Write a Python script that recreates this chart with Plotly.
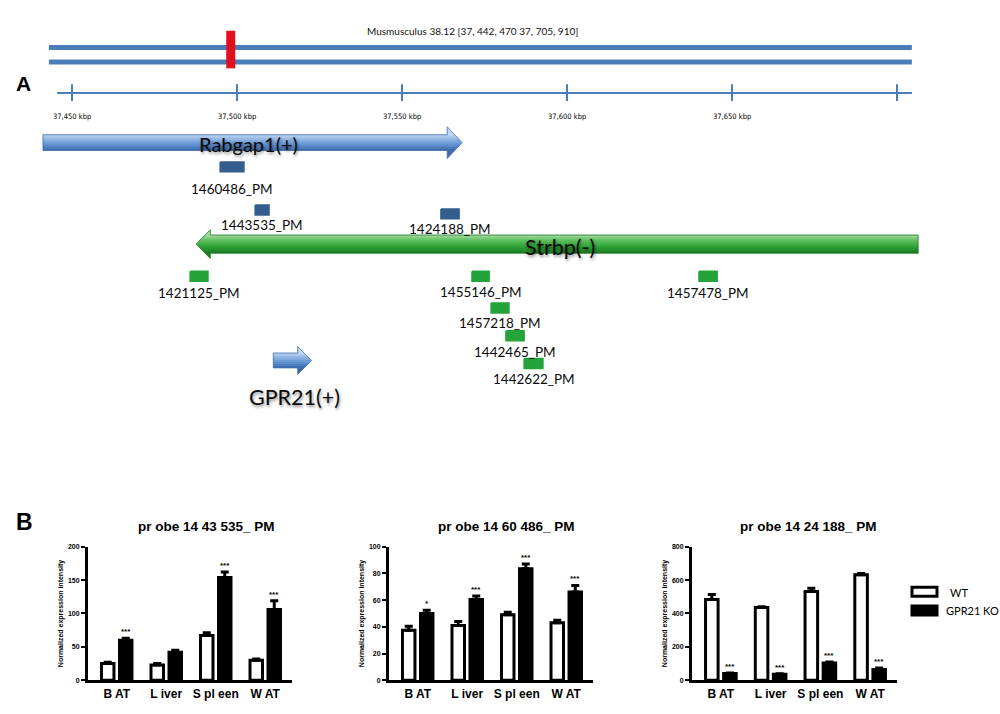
import plotly.graph_objects as go

# ================= DATA =================
# ---- Panel A: genomic locus ----
region_title = "Musmusculus 38.12 [37, 442, 470 37, 705, 910]"
chrom_view_kbp = [37443.0, 37704.5]
locus_mark_kbp = 37498.1
scale_line_kbp = [37445.5, 37704.5]
scale_ticks_kbp = [37450, 37500, 37550, 37600, 37650, 37700]
scale_tick_labels = ["37,450 kbp", "37,500 kbp", "37,550 kbp", "37,600 kbp", "37,650 kbp", ""]

gene_names = ["Rabgap1(+)", "Strbp(-)", "GPR21(+)"]
gene_start_kbp = [37441.2, 37487.6, 37511.0]
gene_end_kbp = [37568.2, 37706.4, 37522.6]
gene_strand = ["+", "-", "+"]

probe_names = ["1460486_PM", "1443535_PM", "1424188_PM", "1421125_PM", "1455146_PM",
               "1457478_PM", "1457218_PM", "1442465_PM", "1442622_PM"]
probe_start_kbp = [37494.9, 37505.5, 37561.8, 37485.8, 37571.2, 37640.0, 37577.0, 37581.5, 37587.0]
probe_end_kbp = [37502.1, 37509.7, 37567.3, 37491.2, 37576.4, 37645.5, 37582.4, 37587.0, 37592.7]
probe_gene = ["Rabgap1", "Rabgap1", "Rabgap1", "Strbp", "Strbp", "Strbp", "Strbp", "Strbp", "Strbp"]

# ---- Panel B: expression ----
tissues = ["B AT", "L iver", "S pl een", "W AT"]
probe_titles = ["pr obe 14 43 535_ PM", "pr obe 14 60 486_ PM", "pr obe 14 24 188_ PM"]
series_names = ["WT", "GPR21 KO"]

wt_1443535 = [25, 23, 67, 30]
wt_err_1443535 = [2, 2, 4, 2]
ko_1443535 = [60, 42, 154, 106]
ko_err_1443535 = [3, 3, 8, 13]
sig_1443535 = ["***", "", "***", "***"]

wt_1460486 = [37.5, 41, 49, 43]
wt_err_1460486 = [3, 3, 2, 2]
ko_1460486 = [50, 60.5, 83.5, 66]
ko_err_1460486 = [2.5, 2.5, 3.5, 5]
sig_1460486 = ["*", "***", "***", "***"]

wt_1424188 = [483, 435, 531, 631]
wt_err_1424188 = [30, 5, 20, 8]
ko_1424188 = [40, 36, 103, 65]
ko_err_1424188 = [3, 3, 6, 8]
sig_1424188 = ["***", "***", "***", "***"]

y_ticks = [[0, 50, 100, 150, 200], [0, 20, 40, 60, 80, 100], [0, 200, 400, 600, 800]]
y_title = "Normalized expression intensity"

# ================= LAYOUT / STYLE =================
W, H = 1000, 714
view_kbp = [37428.18, 37731.21]          # diagram x-range over the full page width
row_chrom = [44, 58.5]
row_mark = [27, 65]
row_scale = 90
row_scale_tick = [81, 98]
row_scale_label = 114
gene_row = [140, 242.5, 360]
gene_body_half = [8, 9.2, 7.5]
gene_head_half = [16, 14.5, 14]
gene_head_len_kbp = [4.5, 4.3, 4.2]
gene_label_kbp = [37503.6, 37597.9, 37517.3]
gene_label_row = [141.5, 245, 397]
gene_label_size = [20, 21.5, 21.5]
gene_grad = [["#C3D8F1", "#8DB3E3", "#6192D2", "#3C6AAA"],
             ["#A9DDA9", "#5CBD5C", "#2CA235", "#1B7A24"],
             ["#C3D8F1", "#8DB3E3", "#6192D2", "#3C6AAA"]]
probe_row = [164.5, 208, 212, 275, 275, 275, 307, 335, 363]
probe_label_row = [186.5, 223, 227.5, 291.5, 291, 291.5, 322.5, 351, 378.5]
probe_half_h = 5
probe_color = {"Rabgap1": "#325D8D", "Strbp": "#24A33A"}
BLUE = "#4A7EBB"

bar_dom_px = [[88, 292], [389, 593], [692, 897]]
bar_y_px = [683, 548]
bar_title_px = [206, 506, 808]
title_row_px = 528
bargap, bargroupgap = 0.273, 0.306
x_range = [-0.58, 3.54]

LABEL_FONT = "Lato, Carlito, Open Sans, sans-serif"
ARIAL = "Liberation Sans, Arial, sans-serif"
NARROW = "Liberation Sans Narrow, Arial Narrow, DejaVu Sans Condensed, sans-serif"


def px2px(x):
    return x / W


def py2p(y):
    return 1 - y / H


def hex2rgb(h):
    h = h.lstrip("#")
    return [int(h[i:i + 2], 16) for i in (0, 2, 4)]


def grad_color(stops, t):
    n = len(stops) - 1
    t = min(max(t, 0), 1) * n
    i = min(int(t), n - 1)
    f = t - i
    a, b = hex2rgb(stops[i]), hex2rgb(stops[i + 1])
    c = [round(a[k] + (b[k] - a[k]) * f) for k in range(3)]
    return "rgb(%d,%d,%d)" % tuple(c)


def arrow_poly(x0, x1, strand, cy, bh, hh, hl):
    if strand == "+":
        xb = x1 - hl
        return [(x0, cy - bh), (xb, cy - bh), (xb, cy - hh), (x1, cy), (xb, cy + hh), (xb, cy + bh), (x0, cy + bh)]
    xb = x0 + hl
    return [(x1, cy - bh), (xb, cy - bh), (xb, cy - hh), (x0, cy), (xb, cy + hh), (xb, cy + bh), (x1, cy + bh)]


def clip_band(pts, y0, y1):
    def clip(p, inside, yc):
        out = []
        for i in range(len(p)):
            cur, prev = p[i], p[i - 1]

            def ix(a, b):
                t = (yc - a[1]) / (b[1] - a[1])
                return (a[0] + t * (b[0] - a[0]), yc)
            if inside(cur):
                if not inside(prev):
                    out.append(ix(prev, cur))
                out.append(cur)
            elif inside(prev):
                out.append(ix(prev, cur))
        return out
    p = clip(pts, lambda q: q[1] >= y0, y0)
    if p:
        p = clip(p, lambda q: q[1] <= y1, y1)
    return p


def paper_text(x, y, text, font, xanchor="center"):
    return dict(x=px2px(x), y=py2p(y), xref="paper", yref="paper", text=text, showarrow=False,
                xanchor=xanchor, yanchor="middle", font=font)


fig = go.Figure()
D = dict(xaxis="x4", yaxis="y4", hoverinfo="skip", showlegend=False)

# chromosome bars
for r in row_chrom:
    fig.add_trace(go.Scatter(x=chrom_view_kbp, y=[r, r], mode="lines",
                             line=dict(color=BLUE, width=5), **D))
# locus marker
fig.add_trace(go.Scatter(x=[locus_mark_kbp, locus_mark_kbp], y=row_mark, mode="lines",
                         line=dict(color="#E2101E", width=9), **D))
# scale line + ticks
fig.add_trace(go.Scatter(x=scale_line_kbp, y=[row_scale, row_scale], mode="lines",
                         line=dict(color=BLUE, width=2), **D))
tx, ty = [], []
for t in scale_ticks_kbp:
    tx += [t, t, None]
    ty += [row_scale_tick[0], row_scale_tick[1], None]
fig.add_trace(go.Scatter(x=tx, y=ty, mode="lines", line=dict(color=BLUE, width=2), **D))

annotations = []
for t, lab in zip(scale_ticks_kbp, scale_tick_labels):
    if lab:
        annotations.append(dict(x=t, y=row_scale_label, xref="x4", yref="y4", text=lab,
                                xanchor="center", yanchor="middle",
                                showarrow=False, font=dict(family=NARROW, size=7.5, color="#000")))
annotations.append(paper_text(472, 27, region_title, dict(family=LABEL_FONT, size=10, color="#111")))

# gene arrows with vertical gradient
for g in range(len(gene_names)):
    cy, bh, hh = gene_row[g], gene_body_half[g], gene_head_half[g]
    poly = arrow_poly(gene_start_kbp[g], gene_end_kbp[g], gene_strand[g], cy, bh, hh, gene_head_len_kbp[g])
    n = 14
    for k in range(n):
        ya = cy - hh + 2 * hh * k / n
        yb = cy - hh + 2 * hh * (k + 1) / n
        p = clip_band(poly, ya - 0.4, yb + 0.4)
        if len(p) < 3:
            continue
        tmid = ((ya + yb) / 2 - (cy - bh)) / (2 * bh)
        col = grad_color(gene_grad[g], tmid)
        fig.add_trace(go.Scatter(x=[q[0] for q in p] + [p[0][0]], y=[q[1] for q in p] + [p[0][1]],
                                 mode="lines", fill="toself", fillcolor=col,
                                 line=dict(width=0, color=col), **D))
    fig.add_trace(go.Scatter(x=[q[0] for q in poly] + [poly[0][0]], y=[q[1] for q in poly] + [poly[0][1]],
                             mode="lines", line=dict(width=0.8, color=gene_grad[g][3]), **D))
    annotations.append(dict(x=gene_label_kbp[g], y=gene_label_row[g], xref="x4", yref="y4",
                            text=gene_names[g], showarrow=False, xanchor="center", yanchor="middle",
                            font=dict(family=LABEL_FONT, size=gene_label_size[g], color="#0a0a0a",
                                      shadow="1px 2px 3px rgba(0,0,0,0.45)")))

# probes
for gname, col in probe_color.items():
    xs, ys = [], []
    for i in range(len(probe_names)):
        if probe_gene[i] != gname:
            continue
        x0, x1, r = probe_start_kbp[i], probe_end_kbp[i], probe_row[i]
        xs += [x0, x1, x1, x0, x0, None]
        ys += [r - probe_half_h, r - probe_half_h, r + probe_half_h, r + probe_half_h, r - probe_half_h, None]
    fig.add_trace(go.Scatter(x=xs, y=ys, mode="lines", fill="toself", fillcolor=col,
                             line=dict(color=col, width=1.5), **D))
for i in range(len(probe_names)):
    annotations.append(dict(x=(probe_start_kbp[i] + probe_end_kbp[i]) / 2, y=probe_label_row[i],
                            xref="x4", yref="y4", text=probe_names[i], showarrow=False,
                            xanchor="center", yanchor="middle",
                            font=dict(family=LABEL_FONT, size=13.5, color="#0a0a0a")))

# panel letters
annotations.append(paper_text(23, 80, "A", dict(family=ARIAL, size=21, color="black", weight="bold")))
annotations.append(paper_text(24, 523, "B", dict(family=ARIAL, size=23, color="black", weight="bold")))

# ---- bar charts ----
wt_sets = [wt_1443535, wt_1460486, wt_1424188]
wt_errs = [wt_err_1443535, wt_err_1460486, wt_err_1424188]
ko_sets = [ko_1443535, ko_1460486, ko_1424188]
ko_errs = [ko_err_1443535, ko_err_1460486, ko_err_1424188]
sigs = [sig_1443535, sig_1460486, sig_1424188]
ko_off = (1 - bargap) / 4
xs_cat = list(range(len(tissues)))

layout_axes = {}
for c in range(3):
    xa = "x" if c == 0 else "x%d" % (c + 1)
    ya = "y" if c == 0 else "y%d" % (c + 1)
    fig.add_trace(go.Bar(x=xs_cat, y=wt_sets[c], xaxis=xa, yaxis=ya, name=series_names[0],
                         offsetgroup="wt", showlegend=False,
                         marker=dict(color="white", line=dict(color="black", width=3)),
                         error_y=dict(type="data", array=wt_errs[c], arrayminus=[0] * 4, symmetric=False,
                                      thickness=3, width=4, color="black")))
    fig.add_trace(go.Bar(x=xs_cat, y=ko_sets[c], xaxis=xa, yaxis=ya, name=series_names[1],
                         offsetgroup="ko", showlegend=False,
                         marker=dict(color="black", line=dict(color="black", width=3)),
                         error_y=dict(type="data", array=ko_errs[c], arrayminus=[0] * 4, symmetric=False,
                                      thickness=3, width=4, color="black")))
    for i in xs_cat:
        if sigs[c][i]:
            annotations.append(dict(x=i + ko_off, y=ko_sets[c][i] + ko_errs[c][i], xref=xa, yref=ya,
                                    text=sigs[c][i], showarrow=False, xanchor="center",
                                    yanchor="bottom", yshift=0,
                                    font=dict(family=ARIAL, size=8, color="black", weight="bold")))
    annotations.append(paper_text(bar_title_px[c], title_row_px, probe_titles[c],
                                  dict(family=ARIAL, size=13.5, color="black", weight="bold")))
    key_x = "xaxis" if c == 0 else "xaxis%d" % (c + 1)
    key_y = "yaxis" if c == 0 else "yaxis%d" % (c + 1)
    layout_axes[key_x] = dict(domain=[px2px(bar_dom_px[c][0]), px2px(bar_dom_px[c][1])], range=x_range,
                              anchor=ya, showline=True, linewidth=3, linecolor="black", ticks="",
                              tickvals=xs_cat, ticktext=tissues, showgrid=False, zeroline=False,
                              fixedrange=True,
                              tickfont=dict(family=ARIAL, size=12, color="black", weight="bold"))
    layout_axes[key_y] = dict(domain=[py2p(bar_y_px[0]), py2p(bar_y_px[1])],
                              range=[0, y_ticks[c][-1]], tickvals=y_ticks[c], anchor=xa,
                              showline=True, linewidth=3, linecolor="black", ticks="outside",
                              ticklen=4, tickwidth=2, tickcolor="black", showgrid=False, zeroline=False,
                              fixedrange=True,
                              tickfont=dict(family=ARIAL, size=7, color="black", weight="bold"),
                              title=dict(text=y_title, standoff=4,
                                         font=dict(family=ARIAL, size=7, color="black", weight="bold")))

# legend (custom)
shapes = [
    dict(type="rect", xref="paper", yref="paper", x0=px2px(912), x1=px2px(937), y0=py2p(598), y1=py2p(589),
         line=dict(color="black", width=3), fillcolor="white"),
    dict(type="rect", xref="paper", yref="paper", x0=px2px(912), x1=px2px(937), y0=py2p(617), y1=py2p(608),
         line=dict(color="black", width=3), fillcolor="black"),
]
annotations.append(paper_text(948, 594, series_names[0], dict(family=LABEL_FONT, size=11, color="black"),
                              xanchor="left"))
annotations.append(paper_text(944, 613, series_names[1], dict(family=LABEL_FONT, size=11, color="black"),
                              xanchor="left"))

fig.update_layout(
    width=W, height=H, autosize=False,
    margin=dict(l=0, r=0, t=0, b=0, pad=0),
    paper_bgcolor="white", plot_bgcolor="rgba(0,0,0,0)",
    barmode="group", bargap=bargap, bargroupgap=bargroupgap,
    showlegend=False,
    xaxis4=dict(domain=[0, 1], range=view_kbp, visible=False, anchor="y4", fixedrange=True),
    yaxis4=dict(domain=[0, 1], range=[H, 0], visible=False, anchor="x4", fixedrange=True),
    annotations=annotations, shapes=shapes,
    **layout_axes,
)

fig.write_html("out.html", config={"displayModeBar": False},
               post_script="document.body.style.margin='0';")
